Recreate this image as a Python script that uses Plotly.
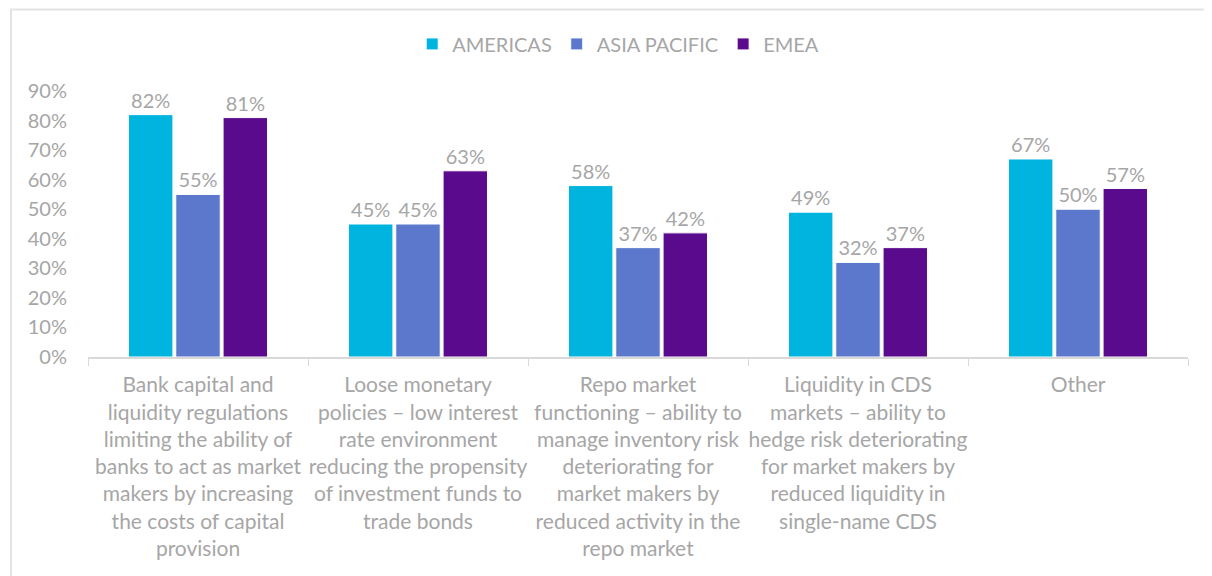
import plotly.graph_objects as go

# categories (x-axis labels, wrapped as in the source)
categories = [
    "Bank capital and<br>liquidity regulations<br>limiting the ability of<br>banks to act as market<br>makers by increasing<br>the costs of capital<br>provision",
    "Loose monetary<br>policies – low interest<br>rate environment<br>reducing the propensity<br>of investment funds to<br>trade bonds",
    "Repo market<br>functioning – ability to<br>manage inventory risk<br>deteriorating for<br>market makers by<br>reduced activity in the<br>repo market",
    "Liquidity in CDS<br>markets – ability to<br>hedge risk deteriorating<br>for market makers by<br>reduced liquidity in<br>single-name CDS",
    "Other",
]
americas = [0.82, 0.45, 0.58, 0.49, 0.67]
asia_pacific = [0.55, 0.45, 0.37, 0.32, 0.50]
emea = [0.81, 0.63, 0.42, 0.37, 0.57]

series = [
    ("AMERICAS", americas, "#00B4E0"),
    ("ASIA PACIFIC", asia_pacific, "#5B78CC"),
    ("EMEA", emea, "#5A0A8C"),
]

grey = "#A6A6A6"
font = "Lato, 'Open Sans', sans-serif"

fig = go.Figure()
for name, vals, col in series:
    fig.add_trace(go.Bar(
        x=categories, y=vals, name=name,
        marker=dict(color=col, line=dict(color="white", width=1)),
        text=vals, texttemplate="%{text:.0%}", textposition="outside",
        textfont=dict(color=grey, size=20, family=font),
        cliponaxis=False,
    ))

# page body has an 8px margin, so the figure is 8px smaller than the window
fig.update_layout(
    width=1204, height=568,
    margin=dict(l=80, r=24, t=83, b=219),
    paper_bgcolor="white", plot_bgcolor="white",
    barmode="group", bargap=0.355, bargroupgap=0.06,
    font=dict(family=font, color=grey, size=20),
    showlegend=True,
    legend=dict(orientation="h", x=0.482, xanchor="center", y=1.177, yanchor="middle",
                font=dict(size=20, color=grey), itemwidth=30),
    shapes=[dict(type="rect", xref="paper", yref="paper",
                 x0=-0.07, x1=1.2, y0=-1.2, y1=1.306,
                 line=dict(color="#E3E3E3", width=2), fillcolor="rgba(0,0,0,0)")],
)
fig.update_xaxes(showline=True, linecolor="#D9D9D9", linewidth=2,
                 ticks="outside", tickson="boundaries", ticklen=7, tickcolor="#D9D9D9",
                 tickangle=0, ticklabelstandoff=8,
                 tickfont=dict(size=21, color=grey), automargin=False)
fig.update_yaxes(range=[0, 0.9], dtick=0.1, tickformat=".0%", showgrid=False,
                 zeroline=False, showline=False, ticklabelstandoff=20,
                 tickfont=dict(size=20, color=grey), automargin=False)

fig.write_html("out.html")
